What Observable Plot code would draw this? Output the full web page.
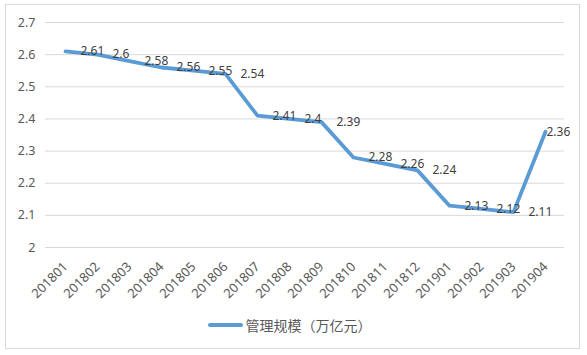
<!DOCTYPE html>
<html>
<head>
<meta charset="utf-8">
<script src="https://cdn.jsdelivr.net/npm/d3@7"></script>
<script src="https://cdn.jsdelivr.net/npm/@observablehq/plot@0.6"></script>
<style>
  html, body { margin: 0; padding: 0; background: #fff; }
  #wrap { position: relative; width: 587px; height: 355px; }
  #border { position: absolute; left: 5px; top: 4px; width: 575px; height: 345px; border: 1px solid #d9d9d9; box-sizing: border-box; pointer-events: none; }
  #chart { position: absolute; left: 0; top: 0; }
  #legend { position: absolute; left: 0; top: 315px; width: 587px; display: flex; justify-content: center; align-items: center; font-family: "Noto Sans CJK SC", sans-serif; font-size: 14px; color: #595959; }
  #legend .sw { width: 35px; height: 4px; background: #5B9BD5; border-radius: 2px; margin-right: 3px; margin-left: -8px; }
</style>
</head>
<body>
<div id="wrap">
  <div id="chart"></div>
  <div id="legend"><span class="sw"></span><span id="legtext"></span></div>
  <div id="border"></div>
</div>
<script>
const categories = ["201801","201802","201803","201804","201805","201806","201807","201808","201809","201810","201811","201812","201901","201902","201903","201904"];
const values = [2.61, 2.60, 2.58, 2.56, 2.55, 2.54, 2.41, 2.40, 2.39, 2.28, 2.26, 2.24, 2.13, 2.12, 2.11, 2.36];
const yTicks = [2, 2.1, 2.2, 2.3, 2.4, 2.5, 2.6, 2.7];
const seriesName = "管理规模（万亿元）";

const data = categories.map((c, i) => ({cat: c, v: values[i], label: String(values[i])}));
const last = data.slice(-1);
const rest = data.slice(0, -1);

const numFont = "'Noto Sans', 'DejaVu Sans', sans-serif";

const chart = Plot.plot({
  width: 587,
  height: 312,
  marginTop: 22,
  marginBottom: 65,
  marginLeft: 45,
  marginRight: 23,
  style: { fontFamily: numFont, fontSize: "12px", color: "#595959", background: "transparent" },
  x: { type: "point", domain: categories, padding: 0.5 },
  y: { domain: [2, 2.7] },
  marks: [
    Plot.ruleY(yTicks, { stroke: "#d9d9d9", strokeWidth: 1 }),
    Plot.axisY({ ticks: yTicks, tickSize: 0, tickPadding: 10, tickFormat: d => String(d), fill: "#595959", fontSize: 12.5, label: null }),
    Plot.axisX({ tickSize: 0, tickRotate: -45, tickPadding: 17, fill: "#595959", fontSize: 13, label: null }),
    Plot.line(data, { x: "cat", y: "v", stroke: "#5B9BD5", strokeWidth: 3.8, strokeLinejoin: "round", strokeLinecap: "round" }),
    Plot.text(rest, { x: "cat", y: "v", text: "label", textAnchor: "start", dx: 15, fill: "#404040", fontSize: 12 }),
    Plot.text(last, { x: "cat", y: "v", text: "label", textAnchor: "start", dx: 1, fill: "#404040", fontSize: 12 })
  ]
});
document.getElementById("chart").appendChild(chart);
document.getElementById("legtext").textContent = seriesName;
</script>
</body>
</html>
